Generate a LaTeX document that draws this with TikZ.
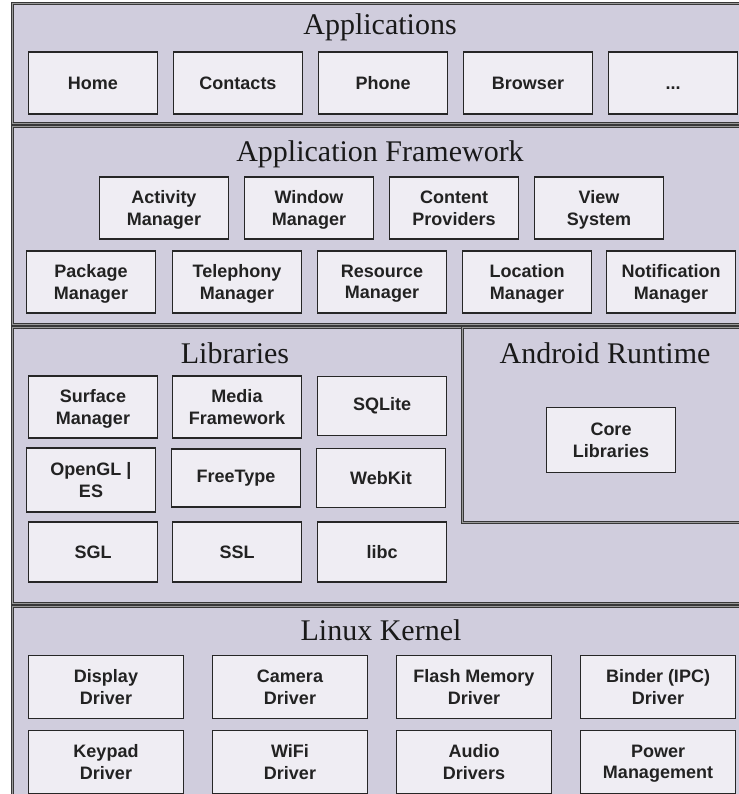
\documentclass[tikz,border=0pt]{standalone}
\usepackage{fontspec}
\setsansfont{Liberation Sans}
\newfontfamily\titlefont{Liberation Serif}
\definecolor{layerbg}{RGB}{208,205,221}
\definecolor{boxbg}{RGB}{239,237,243}
\definecolor{ink}{RGB}{34,34,34}
\begin{document}
\begin{tikzpicture}[x=1pt,y=-1pt,
    layer/.style={draw=black!78,line width=1pt,double=black!40,double distance=1pt,fill=layerbg},
    title/.style={anchor=base,text=black!90,font=\titlefont\fontsize{30}{32}\selectfont},
    comp/.style={draw=black!85,line width=1.7pt,fill=boxbg,text=ink,align=center,
      inner sep=0pt,minimum width=129pt,minimum height=62pt,
      font=\sffamily\bfseries\fontsize{18}{21.5}\selectfont},
    twoline/.style={text depth=-9pt},
    driver/.style={comp,twoline,minimum width=155pt,minimum height=63pt}]
  \useasboundingbox (0,0) rectangle (738,794);
  \draw[layer] (12,4) rectangle (741,124);
  \draw[layer] (12,127) rectangle (741,324);
  \draw[layer] (12,327) rectangle (741,603);
  \draw[layer] (462,327) rectangle (741,522);
  \draw[layer] (12,606) rectangle (741,800);
  \draw
    (380,35) node[title] (apps){Applications}
    (93,83) node[comp] (home){Home}
    (238,83) node[comp] (contacts){Contacts}
    (383,83) node[comp] (phone){Phone}
    (528,83) node[comp] (browser){Browser}
    (673,83) node[comp] (more){\vphantom{H}...};
  \draw
    (380,162) node[title] (framework){Application Framework}
    (164,208) node[comp,twoline] (activity){Activity\\Manager}
    (309,208) node[comp,twoline] (window){Window\\Manager}
    (454,208) node[comp,twoline] (content){Content\\Providers}
    (599,208) node[comp,twoline] (view){View\\System}
    (91,282) node[comp,twoline] (package){Package\\Manager}
    (237,282) node[comp,twoline] (telephony){Telephony\\Manager}
    (382,282) node[comp,twoline] (resource){Resource\\Manager}
    (527,282) node[comp,twoline] (location){Location\\Manager}
    (671,282) node[comp,twoline] (notification){Notification\\Manager};
  \draw
    (235,363) node[title] (libraries){Libraries}
    (93,407) node[comp,twoline] (surface){Surface\\Manager}
    (237,407) node[comp,twoline] (media){Media\\Framework}
    (382,406) node[comp,minimum height=59pt] (sqlite){SQLite}
    (91,480) node[comp,twoline,minimum height=64pt] (opengl){OpenGL |\\ES}
    (236,478) node[comp,minimum height=58pt] (freetype){FreeType}
    (381,478) node[comp,minimum height=59pt] (webkit){WebKit}
    (93,552) node[comp,minimum height=60pt] (sgl){SGL}
    (237,552) node[comp,minimum height=60pt] (ssl){SSL}
    (382,552) node[comp,minimum height=60pt] (libc){libc};
  \draw
    (605,363) node[title] (runtime){Android Runtime}
    (611,440) node[comp,twoline,minimum height=65pt] (core){Core\\Libraries};
  \draw
    (381,640) node[title] (kernel){Linux Kernel}
    (106,687) node[driver] (display){Display\\Driver}
    (290,687) node[driver] (camera){Camera\\Driver}
    (474,687) node[driver] (flash){Flash Memory\\Driver}
    (658,687) node[driver] (binder){Binder (IPC)\\Driver}
    (106,762) node[driver] (keypad){Keypad\\Driver}
    (290,762) node[driver] (wifi){WiFi\\Driver}
    (474,762) node[driver] (audio){Audio\\Drivers}
    (658,762) node[driver] (power){Power\\Management};
\end{tikzpicture}
\end{document}
